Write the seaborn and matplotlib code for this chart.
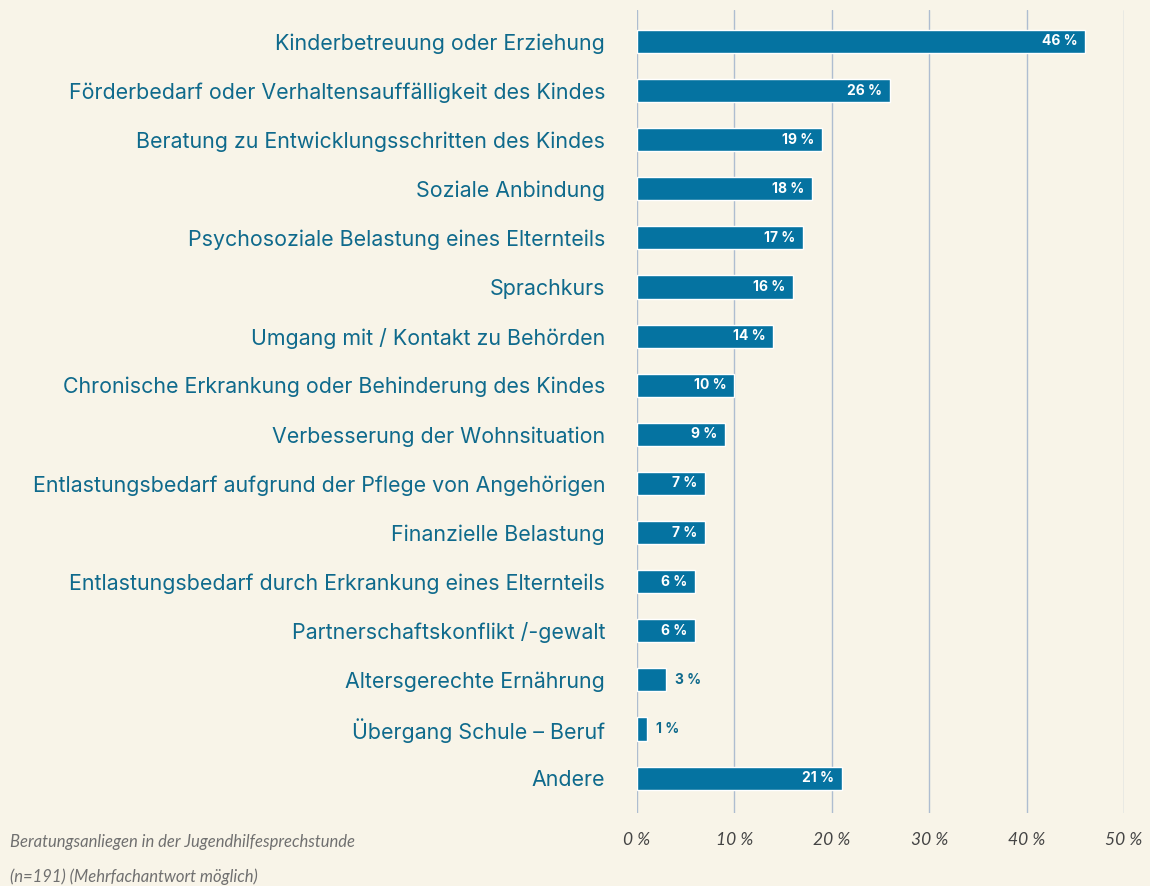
import pandas as pd
import matplotlib.pyplot as plt
import seaborn as sns

# data
categories = [
    "Kinderbetreuung oder Erziehung",
    "Förderbedarf oder Verhaltensauffälligkeit des Kindes",
    "Beratung zu Entwicklungsschritten des Kindes",
    "Soziale Anbindung",
    "Psychosoziale Belastung eines Elternteils",
    "Sprachkurs",
    "Umgang mit / Kontakt zu Behörden",
    "Chronische Erkrankung oder Behinderung des Kindes",
    "Verbesserung der Wohnsituation",
    "Entlastungsbedarf aufgrund der Pflege von Angehörigen",
    "Finanzielle Belastung",
    "Entlastungsbedarf durch Erkrankung eines Elternteils",
    "Partnerschaftskonflikt /-gewalt",
    "Altersgerechte Ernährung",
    "Übergang Schule – Beruf",
    "Andere",
]
values = [46, 26, 19, 18, 17, 16, 14, 10, 9, 7, 7, 6, 6, 3, 1, 21]
xticks = [0, 10, 20, 30, 40, 50]

bg = "#f8f4e8"
bar_color = "#0573a1"
label_color = "#0f6a8c"
grid_color = "#aebdd0"

sns.set_style("white")
plt.rcParams["font.family"] = ["Lato", "DejaVu Sans"]

df = pd.DataFrame({"cat": categories, "val": values})

fig = plt.figure(figsize=(11.5, 8.86), dpi=100, facecolor=bg)
ax = fig.add_axes([637 / 1150, 1 - 813 / 886, (1124 - 637) / 1150, (813 - 10) / 886])
ax.set_facecolor(bg)

sns.barplot(data=df, x="val", y="cat", color=bar_color, width=0.47,
            saturation=1, ax=ax, zorder=3)

ax.set_xlim(0, 50)
ax.set_ylim(15.71, -0.64)
ax.set_xticks(xticks)
ax.set_xticklabels([f"{t} %" for t in xticks], style="italic", color="#444444",
                   fontsize=12.5)
ax.tick_params(axis="x", length=0, pad=14)
ax.tick_params(axis="y", length=0, pad=23)
for lbl in ax.get_yticklabels():
    lbl.set_color(label_color)
    lbl.set_fontsize(15.4)
    lbl.set_family(["Inter", "DejaVu Sans"])
ax.set_xlabel("")
ax.set_ylabel("")
ax.xaxis.grid(True, color=grid_color, linewidth=1, zorder=0)
for s in ax.spines.values():
    s.set_visible(False)

# value labels
for i, v in enumerate(values):
    if v >= 5:
        ax.text(v - 0.8, i, f"{v} %", ha="right", va="center", color="white",
                fontsize=10, fontweight="bold", family=["Inter", "DejaVu Sans"],
                zorder=4)
    else:
        ax.text(v + 0.9, i, f"{v} %", ha="left", va="center", color=label_color,
                fontsize=10, fontweight="bold", family=["Inter", "DejaVu Sans"],
                zorder=4)

fig.text(10 / 1150, 1 - 842 / 886, "Beratungsanliegen in der Jugendhilfesprechstunde",
         style="italic", color="#707070", fontsize=12, va="center")
fig.text(10 / 1150, 1 - 877 / 886, "(n=191) (Mehrfachantwort möglich)",
         style="italic", color="#707070", fontsize=12, va="center")

fig.savefig("out.png", dpi=100, facecolor=bg)
